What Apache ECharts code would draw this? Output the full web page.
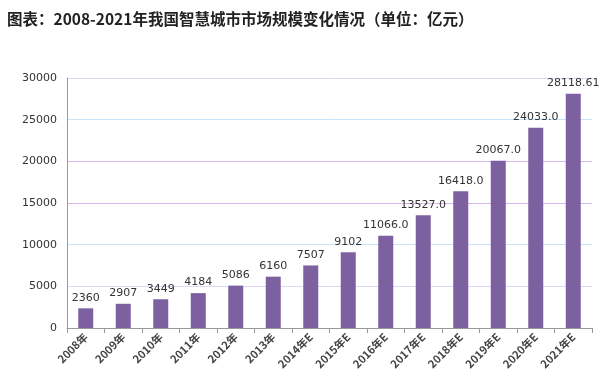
<!DOCTYPE html>
<html><head><meta charset="utf-8">
<script src="https://cdn.jsdelivr.net/npm/echarts@6/dist/echarts.min.js"></script>
<style>html,body{margin:0;padding:0;background:#fff}#c{width:600px;height:389px}</style>
</head><body><div id="c"></div>
<script>
var titleText = '图表：2008-2021年我国智慧城市市场规模变化情况（单位：亿元）';
var categories = ['2008年','2009年','2010年','2011年','2012年','2013年','2014年E','2015年E','2016年E','2017年E','2018年E','2019年E','2020年E','2021年E'];
var values = [2360,2907,3449,4184,5086,6160,7507,9102,11066.0,13527.0,16418.0,20067.0,24033.0,28118.61];
var valueLabels = ['2360','2907','3449','4184','5086','6160','7507','9102','11066.0','13527.0','16418.0','20067.0','24033.0','28118.61'];
var yTicks = [0,5000,10000,15000,20000,25000,30000];

var chart = echarts.init(document.getElementById('c'));
chart.setOption({
  animation:false,
  backgroundColor:'#fff',
  title:{text:titleText,left:2,top:6,textStyle:{fontSize:15.5,fontWeight:'bold',color:'#222',fontFamily:'"Noto Sans CJK SC", Arial, sans-serif'}},
  grid:{left:67,right:8,top:78,bottom:61,containLabel:false},
  xAxis:{type:'category',data:categories,
    axisLine:{lineStyle:{color:'#999',width:1}},
    axisTick:{show:true,length:5,lineStyle:{color:'#999'}},
    axisLabel:{rotate:45,interval:0,fontSize:11,color:'#444',fontWeight:'bold',margin:7,fontFamily:'"Noto Sans CJK SC", sans-serif'}},
  yAxis:{type:'value',min:yTicks[0],max:yTicks[yTicks.length-1],interval:5000,
    axisLine:{show:true,lineStyle:{color:'#999'}},
    axisTick:{show:false},
    axisLabel:{fontSize:11,color:'#333',margin:10,fontFamily:'"DejaVu Sans", sans-serif',formatter:function(v){return String(v);}},
    splitLine:{show:true,lineStyle:{color:['#ffffff','#ddd6f7','#c8e2f7','#d4b7f2','#d4b7f2','#c8e2f7','#ddd6f7'],width:1}}},
  series:[{type:'bar',data:values,barWidth:15,
    itemStyle:{color:'#7d60a0'},
    label:{show:true,position:'top',distance:5,fontSize:11,color:'#333',fontFamily:'"DejaVu Sans", sans-serif',
      formatter:function(p){return valueLabels[p.dataIndex];}}}]
});
</script></body></html>
